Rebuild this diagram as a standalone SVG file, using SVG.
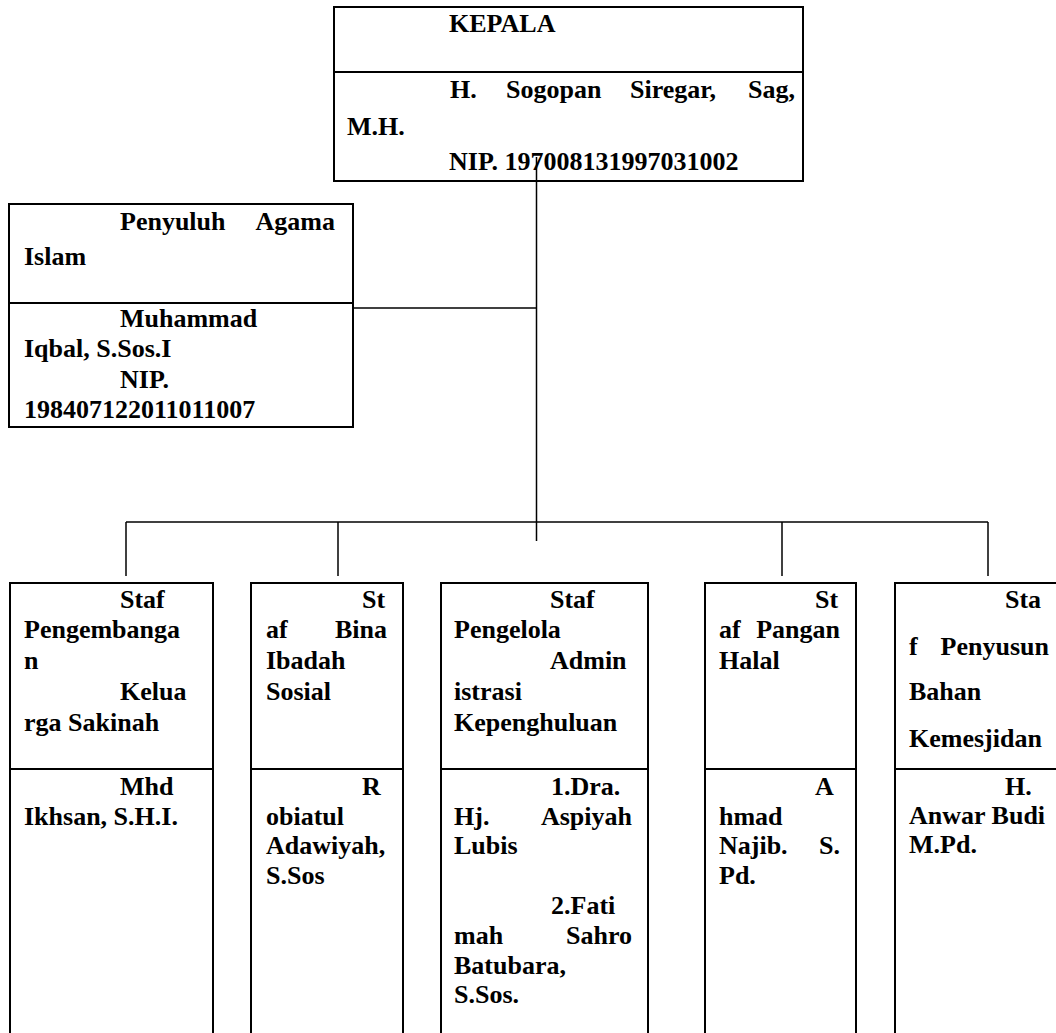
<svg xmlns="http://www.w3.org/2000/svg" width="1056" height="1033" viewBox="0 0 1056 1033">
<style>
.box{fill:#fff;stroke:#000;stroke-width:2}
.dv{stroke:#000;stroke-width:2}
.t{font-family:"Liberation Serif","Times New Roman",serif;font-weight:bold;font-size:26px;fill:#000}
.e{text-anchor:end}
.conn line{stroke:#000;stroke-width:1.5}
</style>
<rect width="1056" height="1033" fill="#fff"/>
<g id="kepala">
<rect class="box" x="334" y="7" width="469" height="174"/>
<line class="dv" x1="334" y1="72" x2="803" y2="72"/>
<text class="t" x="449" y="32">KEPALA</text>
<text class="t" x="450" y="98">H.</text>
<text class="t" x="506" y="98">Sogopan</text>
<text class="t" x="630" y="98">Siregar,</text>
<text class="t e" x="795" y="98">Sag,</text>
<text class="t" x="347" y="135">M.H.</text>
<text class="t" x="449" y="170">NIP. 197008131997031002</text>
</g>
<g id="penyuluh">
<rect class="box" x="9" y="204" width="344" height="223"/>
<line class="dv" x1="9" y1="303" x2="353" y2="303"/>
<text class="t" x="120" y="230">Penyuluh</text>
<text class="t e" x="335" y="230">Agama</text>
<text class="t" x="24" y="265">Islam</text>
<text class="t" x="120" y="327">Muhammad</text>
<text class="t" x="24" y="357">Iqbal, S.Sos.I</text>
<text class="t" x="120" y="388">NIP.</text>
<text class="t" x="24" y="418">198407122011011007</text>
</g>
<g id="staf-keluarga">
<rect class="box" x="10" y="583" width="203" height="460"/>
<line class="dv" x1="10" y1="769" x2="213" y2="769"/>
<text class="t" x="120" y="608">Staf</text>
<text class="t" x="24" y="638">Pengembanga</text>
<text class="t" x="24" y="669">n</text>
<text class="t" x="120" y="700">Kelua</text>
<text class="t" x="24" y="731">rga Sakinah</text>
<text class="t" x="120" y="795">Mhd</text>
<text class="t" x="24" y="825">Ikhsan, S.H.I.</text>
</g>
<g id="staf-ibadah">
<rect class="box" x="251" y="583" width="152" height="460"/>
<line class="dv" x1="251" y1="769" x2="403" y2="769"/>
<text class="t" x="362" y="608">St</text>
<text class="t" x="266" y="638">af</text>
<text class="t e" x="387" y="638">Bina</text>
<text class="t" x="266" y="669">Ibadah</text>
<text class="t" x="266" y="700">Sosial</text>
<text class="t" x="362" y="795">R</text>
<text class="t" x="266" y="825">obiatul</text>
<text class="t" x="266" y="854">Adawiyah,</text>
<text class="t" x="266" y="884">S.Sos</text>
</g>
<g id="staf-administrasi">
<rect class="box" x="441" y="583" width="207" height="460"/>
<line class="dv" x1="441" y1="769" x2="648" y2="769"/>
<text class="t" x="550" y="608">Staf</text>
<text class="t" x="454" y="638">Pengelola</text>
<text class="t" x="550" y="669">Admin</text>
<text class="t" x="454" y="700">istrasi</text>
<text class="t" x="454" y="731">Kepenghuluan</text>
<text class="t" x="551" y="795">1.Dra.</text>
<text class="t" x="454" y="825">Hj.</text>
<text class="t e" x="632" y="825">Aspiyah</text>
<text class="t" x="454" y="854">Lubis</text>
<text class="t" x="551" y="914">2.Fati</text>
<text class="t" x="454" y="944">mah</text>
<text class="t e" x="632" y="944">Sahro</text>
<text class="t" x="454" y="974">Batubara,</text>
<text class="t" x="454" y="1003">S.Sos.</text>
</g>
<g id="staf-halal">
<rect class="box" x="705" y="583" width="151" height="460"/>
<line class="dv" x1="705" y1="769" x2="856" y2="769"/>
<text class="t" x="815" y="608">St</text>
<text class="t" x="719" y="638">af</text>
<text class="t e" x="840" y="638">Pangan</text>
<text class="t" x="719" y="669">Halal</text>
<text class="t" x="815" y="795">A</text>
<text class="t" x="719" y="825">hmad</text>
<text class="t" x="719" y="854">Najib.</text>
<text class="t e" x="840" y="854">S.</text>
<text class="t" x="719" y="884">Pd.</text>
</g>
<g id="staf-kemesjidan">
<rect class="box" x="895" y="583" width="170" height="460"/>
<line class="dv" x1="895" y1="769" x2="1065" y2="769"/>
<text class="t" x="1005" y="608">Sta</text>
<text class="t" x="909" y="655">f</text>
<text class="t e" x="1049" y="655">Penyusun</text>
<text class="t" x="909" y="700">Bahan</text>
<text class="t" x="909" y="747">Kemesjidan</text>
<text class="t" x="1005" y="795">H.</text>
<text class="t" x="909" y="824">Anwar Budi</text>
<text class="t" x="909" y="853">M.Pd.</text>
</g>
<g id="connectors" class="conn">
<line x1="536.5" y1="157" x2="536.5" y2="541"/>
<line x1="353" y1="308" x2="536.5" y2="308"/>
<line x1="126" y1="522" x2="988" y2="522"/>
<line x1="126" y1="522" x2="126" y2="576"/>
<line x1="338" y1="522" x2="338" y2="576"/>
<line x1="782" y1="522" x2="782" y2="576"/>
<line x1="988" y1="522" x2="988" y2="576"/>
</g>
</svg>
